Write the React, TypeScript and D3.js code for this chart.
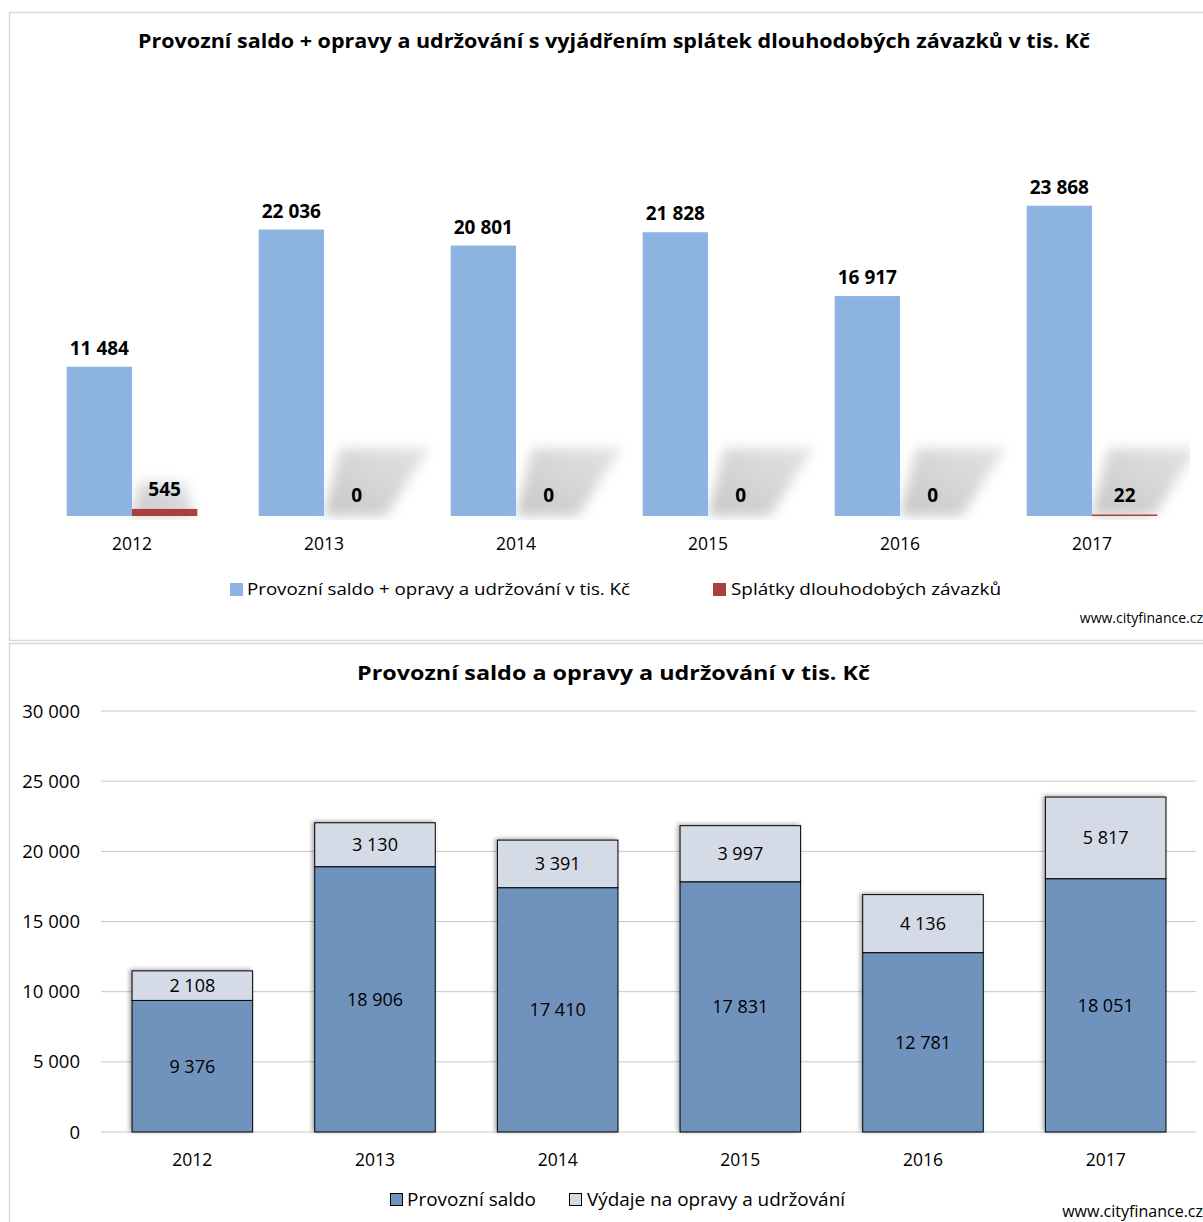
import React from "react";
import * as d3 from "d3";

// Categories and series values
const years = ["2012", "2013", "2014", "2015", "2016", "2017"];
const operatingPlusRepairs = [11484, 22036, 20801, 21828, 16917, 23868];
const longTermRepayments = [545, 0, 0, 0, 0, 22];
const operatingBalance = [9376, 18906, 17410, 17831, 12781, 18051];
const repairsSpending = [2108, 3130, 3391, 3997, 4136, 5817];
const bottomTicks = [0, 5000, 10000, 15000, 20000, 25000, 30000];

const topSeries = ["Provozní saldo + opravy a udržování v tis. Kč", "Splátky dlouhodobých závazků"];
const bottomSeries = ["Provozní saldo", "Výdaje na opravy a udržování"];

const cz = d3.formatLocale({ decimal: ",", thousands: " ", grouping: [3], currency: ["", " Kč"] });
const fmt = cz.format(",d");

const FONT = "'Open Sans', Lato, sans-serif";
const BLUE_LIGHT = "#8db3e2";
const RED = "#ab3f3d";
const BLUE_DARK = "#6f93be";
const GRAY_LIGHT = "#d4dbe6";

export default function App() {
  // ---- top chart scales ----
  const xTop = d3.scaleBand<string>().domain(years).range([36, 1188]).paddingInner(0.32).paddingOuter(0.16);
  const sub = d3.scaleBand<string>().domain(["a", "b"]).range([0, xTop.bandwidth()]);
  const yTop = d3.scaleLinear().domain([0, 30000]).range([516, 126]);

  // ---- bottom chart scales ----
  const xBot = d3.scaleBand<string>().domain(years).range([101, 1197]).paddingInner(0.34).paddingOuter(0.17);
  const yBot = d3.scaleLinear().domain([0, 30000]).range([1132, 711]);

  const stack = d3.stack<number>().keys(["s", "r"]).value((i, k) => (k === "s" ? operatingBalance[i] : repairsSpending[i]));
  const stacked = stack(years.map((_, i) => i));

  const base = yTop(0);

  return (
    <svg width={1203} height={1222} style={{ position: "absolute", left: 0, top: 0, background: "#fff" }} fontFamily={FONT}>
      <defs>
        <filter id="shadowBlur" x="-50%" y="-50%" width="200%" height="200%">
          <feGaussianBlur stdDeviation="6" />
        </filter>
        <linearGradient id="shadowGrad" x1="0" y1="1" x2="1" y2="0">
          <stop offset="0" stopColor="#b8b8b8" stopOpacity="0.8" />
          <stop offset="1" stopColor="#cccccc" stopOpacity="0.55" />
        </linearGradient>
        <clipPath id="topPlot">
          <rect x={20} y={100} width={1170} height={420} />
        </clipPath>
        <filter id="barShadow" x="-20%" y="-20%" width="140%" height="140%">
          <feDropShadow dx={-2} dy={-1} stdDeviation={2} floodColor="#000" floodOpacity={0.35} />
        </filter>
      </defs>

      {/* panel frames */}
      <rect x={9.5} y={12.5} width={1210} height={628} fill="#fff" stroke="#d9d9d9" strokeWidth={1.5} />
      <rect x={9.5} y={643.5} width={1210} height={600} fill="#fff" stroke="#d9d9d9" strokeWidth={1.5} />

      {/* ---------------- top chart ---------------- */}
      <text x={138} y={48} fontSize={19} fontWeight={700} fill="#000" textLength={952} lengthAdjust="spacingAndGlyphs">
        Provozní saldo + opravy a udržování s vyjádřením splátek dlouhodobých závazků v tis. Kč
      </text>

      <g clipPath="url(#topPlot)">
        {years.map((yr, i) => {
          const x0 = (xTop(yr) as number) + (sub("b") as number);
          const w = sub.bandwidth();
          const k = i === 0 ? 0.5 : 1;
          const h = 68 * k;
          const pts = [
            [x0, base],
            [x0 + w * 0.95, base],
            [x0 + w * k + 40 * k, base - h],
            [x0 + 16 * k, base - h],
          ];
          return (
            <polygon key={yr} points={pts.map((p) => p.join(",")).join(" ")} fill="url(#shadowGrad)" filter="url(#shadowBlur)" />
          );
        })}
      </g>

      {years.map((yr, i) => {
        const xb = (xTop(yr) as number) + (sub("a") as number);
        const xr = (xTop(yr) as number) + (sub("b") as number);
        const w = sub.bandwidth();
        const vb = operatingPlusRepairs[i];
        const vr = longTermRepayments[i];
        const hr = Math.max(base - yTop(vr), vr > 0 ? 1.5 : 0);
        return (
          <g key={yr}>
            <rect x={xb} y={yTop(vb)} width={w} height={base - yTop(vb)} fill={BLUE_LIGHT} />
            {vr > 0 && <rect x={xr} y={base - hr} width={w} height={hr} fill={RED} />}
            <text x={xb + w / 2} y={yTop(vb) - 12} textAnchor="middle" fontSize={19} fontWeight={700} fill="#000">
              {fmt(vb)}
            </text>
            <text x={xr + w / 2} y={vr > 100 ? base - hr - 13 : base - 14} textAnchor="middle" fontSize={19} fontWeight={700} fill="#000">
              {fmt(vr)}
            </text>
            <text x={xb + w} y={550} textAnchor="middle" fontSize={17.5} fill="#000">
              {yr}
            </text>
          </g>
        );
      })}

      {/* top legend */}
      <rect x={230} y={583} width={13} height={13} fill={BLUE_LIGHT} />
      <text x={247} y={595} fontSize={17} fill="#000" textLength={383} lengthAdjust="spacingAndGlyphs">{topSeries[0]}</text>
      <rect x={713} y={583} width={13} height={13} fill={RED} />
      <text x={731} y={595} fontSize={17} fill="#000" textLength={270} lengthAdjust="spacingAndGlyphs">{topSeries[1]}</text>
      <text x={1203} y={623} textAnchor="end" fontSize={14} fill="#000">www.cityfinance.cz</text>

      {/* ---------------- bottom chart ---------------- */}
      <text x={357} y={680} fontSize={20} fontWeight={700} fill="#000" textLength={513} lengthAdjust="spacingAndGlyphs">
        Provozní saldo a opravy a udržování v tis. Kč
      </text>

      {bottomTicks.map((t) => (
        <g key={t}>
          <line x1={101} x2={1196} y1={yBot(t)} y2={yBot(t)} stroke="#c8c8c8" strokeWidth={1} />
          <text x={80} y={yBot(t) + 6.5} textAnchor="end" fontSize={18.5} fill="#000">
            {fmt(t)}
          </text>
        </g>
      ))}

      {years.map((yr, i) => {
        const x = xBot(yr) as number;
        const w = xBot.bandwidth();
        const s = stacked[0][i];
        const r = stacked[1][i];
        return (
          <g key={yr}>
            <g filter="url(#barShadow)">
              <rect x={x} y={yBot(s[1])} width={w} height={yBot(s[0]) - yBot(s[1])} fill={BLUE_DARK} stroke="#000" strokeWidth={1} />
              <rect x={x} y={yBot(r[1])} width={w} height={yBot(r[0]) - yBot(r[1])} fill={GRAY_LIGHT} stroke="#000" strokeWidth={1} />
            </g>
            <text x={x + w / 2} y={(yBot(s[0]) + yBot(s[1])) / 2 + 6.5} textAnchor="middle" fontSize={18} fill="#000">
              {fmt(operatingBalance[i])}
            </text>
            <text x={x + w / 2} y={(yBot(r[0]) + yBot(r[1])) / 2 + 6.5} textAnchor="middle" fontSize={18} fill="#000">
              {fmt(repairsSpending[i])}
            </text>
            <text x={x + w / 2} y={1166} textAnchor="middle" fontSize={17.5} fill="#000">
              {yr}
            </text>
          </g>
        );
      })}

      {/* bottom legend */}
      <rect x={390.5} y={1193.5} width={12} height={12} fill={BLUE_DARK} stroke="#000" strokeWidth={1} />
      <text x={407} y={1206} fontSize={18} fill="#000" textLength={129} lengthAdjust="spacingAndGlyphs">{bottomSeries[0]}</text>
      <rect x={569.5} y={1193.5} width={12} height={12} fill={GRAY_LIGHT} stroke="#000" strokeWidth={1} />
      <text x={587} y={1206} fontSize={18} fill="#000" textLength={258} lengthAdjust="spacingAndGlyphs">{bottomSeries[1]}</text>
      <text x={1203} y={1217} textAnchor="end" fontSize={16} fill="#000">www.cityfinance.cz</text>
    </svg>
  );
}
